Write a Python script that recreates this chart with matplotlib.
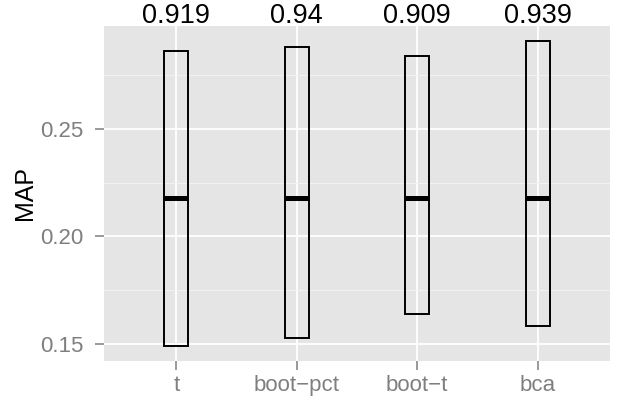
import matplotlib
matplotlib.use("Agg")
import matplotlib.pyplot as plt
import matplotlib.transforms as mtransforms

plt.rcParams['font.family'] = ['Liberation Sans', 'DejaVu Sans']

# interval data
methods = ["t", "boot\u2212pct", "boot\u2212t", "bca"]
lower = [0.1491, 0.1529, 0.1641, 0.1582]
upper = [0.2863, 0.2883, 0.2841, 0.2909]
middle = [0.2177, 0.2177, 0.2177, 0.2177]
coverage = ["0.919", "0.94", "0.909", "0.939"]

xpos = list(range(1, len(methods) + 1))

fig = plt.figure(figsize=(6.22, 4.03), dpi=100)
ax = fig.add_axes([104 / 622, 42.3 / 403, 506 / 622, 334.7 / 403])
ax.set_facecolor("#E5E5E5")
for s in ax.spines.values():
    s.set_visible(False)

# grid like ggplot
ax.set_yticks([0.15, 0.20, 0.25])
ax.set_yticks([0.175, 0.225, 0.275], minor=True)
ax.set_xticks(xpos)
ax.set_xticklabels(methods)
ax.grid(True, which="major", color="white", lw=1.3)
ax.grid(True, which="minor", axis="y", color="#F2F2F2", lw=0.7)
ax.set_axisbelow(True)

# crossbars
ax.bar(xpos, [u - l for u, l in zip(upper, lower)], bottom=lower, width=0.2,
       fill=False, edgecolor="black", lw=1.4, zorder=3)
ax.hlines(middle, [x - 0.1 for x in xpos], [x + 0.1 for x in xpos],
          color="black", lw=3.6, zorder=4)

ax.set_xlim(0.4, 4.6)
ax.set_ylim(0.1422, 0.2979)
ax.yaxis.set_major_formatter(matplotlib.ticker.FormatStrFormatter("%.2f"))

ax.tick_params(axis="both", which="major", colors="#7F7F7F", labelcolor="#7F7F7F",
               labelsize=16, length=6.5, width=1.1)
ax.tick_params(axis="x", which="major", pad=4)
ax.tick_params(axis="y", which="major", pad=8)
ax.tick_params(axis="y", which="minor", length=0)
ax.set_ylabel("MAP", fontsize=18, color="black")
ax.yaxis.set_label_coords(-0.133, 0.5)

# coverage labels above the panel
trans = mtransforms.blended_transform_factory(ax.transData, ax.transAxes)
for x, lab in zip(xpos, coverage):
    ax.text(x, 1.01, lab, transform=trans, ha="center", va="baseline",
            fontsize=19.5, color="black", clip_on=False)

fig.savefig("out.png", dpi=100)
